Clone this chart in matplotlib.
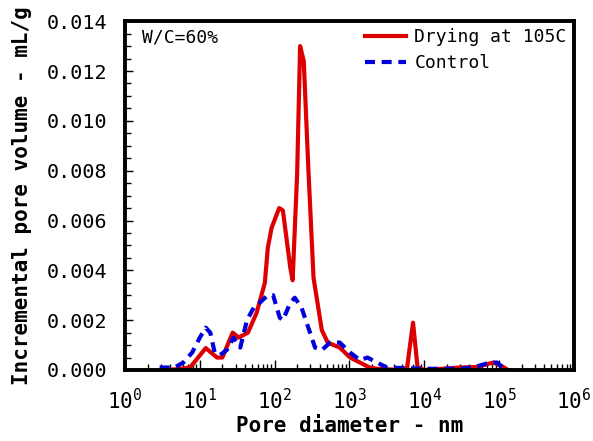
import matplotlib
matplotlib.use("Agg")
import matplotlib.pyplot as plt
import numpy as np
from matplotlib.ticker import FixedLocator, LogLocator, NullFormatter

plt.rcParams['font.family'] = ['DejaVu Sans Mono']
plt.rcParams['mathtext.fontset'] = 'custom'
plt.rcParams['mathtext.rm'] = 'DejaVu Sans Mono'
plt.rcParams['mathtext.it'] = 'DejaVu Sans Mono'

# Drying at 105C
dry_d = [3.2, 5.0, 7.4, 12.0, 17.0, 20.0, 27.5, 33.0, 44.0, 57.5, 74.0, 81.0, 91.0,
         115.0, 129.0, 162.0, 174.0, 200.0, 219.0, 245.0, 282.0, 331.0, 427.0, 513.0,
         741.0, 1020.0, 1380.0, 1860.0, 2340.0, 4790.0, 5890.0, 7080.0, 8130.0, 10000.0,
         30200.0, 50000.0, 83000.0, 102000.0, 132000.0]
dry_v = [0.0, 0.00003, 0.0001, 0.00088, 0.0005, 0.0005, 0.0015, 0.0013, 0.0015,
         0.0023, 0.0035, 0.0049, 0.0057, 0.0065, 0.0064, 0.0041, 0.0036, 0.0079,
         0.0130, 0.0124, 0.0081, 0.0037, 0.0016, 0.0011, 0.0009, 0.0005, 0.0003,
         0.0001, 0.00005, 0.0, 0.0001, 0.0019, 0.0001, 0.0, 0.0001, 0.00012,
         0.0003, 0.0002, 0.0]

# Control
ctl_d = [2.9, 4.6, 6.0, 7.9, 10.0, 12.0, 13.8, 15.8, 18.6, 22.9, 28.2, 34.7, 42.7,
         52.5, 63.1, 81.0, 95.5, 117.0, 129.0, 162.0, 186.0, 229.0, 282.0, 347.0,
         427.0, 550.0, 741.0, 1020.0, 1380.0, 1740.0, 2340.0, 3160.0, 10000.0,
         30000.0, 44700.0, 75900.0, 93300.0, 112000.0, 132000.0]
ctl_v = [0.0001, 0.0001, 0.0003, 0.0007, 0.0013, 0.0017, 0.0015, 0.0007, 0.0006,
         0.0008, 0.0013, 0.0009, 0.0020, 0.0025, 0.0027, 0.0030, 0.0030, 0.0021,
         0.0020, 0.0027, 0.0029, 0.0025, 0.0017, 0.0009, 0.0008, 0.0011, 0.0011,
         0.0007, 0.0004, 0.0005, 0.0003, 0.0001, 0.00005, 0.00005, 0.0001, 0.0003,
         0.0003, 0.0001, 0.0]

yticks = [0.000, 0.002, 0.004, 0.006, 0.008, 0.010, 0.012, 0.014]

fig = plt.figure(figsize=(5.93, 4.41), dpi=100)
ax = fig.add_axes([0.2108, 0.161, 0.757, 0.791])

ax.plot(dry_d, dry_v, color='#dd0000', lw=3.0, label='Drying at 105C', solid_joinstyle='round')
ax.plot(ctl_d, ctl_v, color='#0000dd', lw=3.0, ls=(0, (2.4, 1.6)), label='Control')

ax.set_xscale('log')
ax.set_xlim(1, 1e6)
ax.set_ylim(0, 0.014)
ax.set_yticks(yticks)
ax.set_yticklabels([f"{v:.3f}" for v in yticks])
ax.yaxis.set_minor_locator(FixedLocator(np.arange(0, 0.0141, 0.0005)))
ax.xaxis.set_major_locator(LogLocator(base=10, numticks=10))
ax.xaxis.set_minor_locator(LogLocator(base=10, subs=np.arange(2, 10), numticks=100))
ax.xaxis.set_minor_formatter(NullFormatter())

ax.tick_params(axis='both', which='both', direction='in', top=False, right=False)
ax.tick_params(axis='y', which='major', length=6, width=1.0, pad=13, labelsize=14.5)
ax.tick_params(axis='y', which='minor', length=4, width=1.0)
ax.tick_params(axis='x', which='major', length=7, width=1.0, pad=13, labelsize=15)
ax.tick_params(axis='x', which='minor', length=4, width=1.0)

for s in ax.spines.values():
    s.set_linewidth(2.8)

ax.set_xlabel('Pore diameter - nm', fontsize=15, fontweight='bold', labelpad=2)
ax.set_ylabel('Incremental pore volume - mL/g', fontsize=15, fontweight='bold', labelpad=10)

ax.text(0.038, 0.978, 'W/C=60%', transform=ax.transAxes, fontsize=13, va='top', ha='left')

ax.legend(loc='upper right', frameon=False, fontsize=13, handlelength=2.3,
          handletextpad=0.45, borderaxespad=0.2, labelspacing=0.42, borderpad=0.2)

fig.savefig('out.png', dpi=100)
